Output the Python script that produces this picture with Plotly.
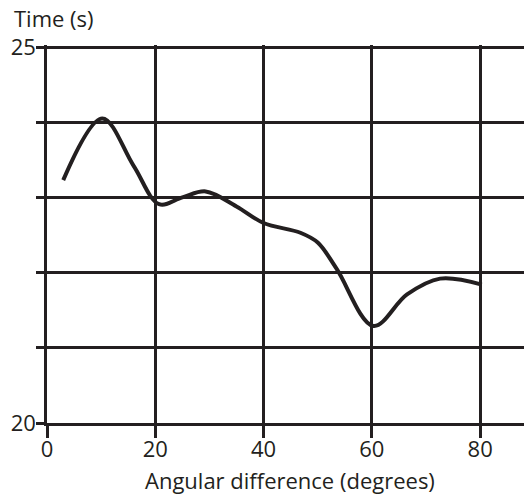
import plotly.graph_objects as go

angle = [3, 10.2, 16, 20.7, 25, 29.3, 35, 40, 46.8, 50, 53.5, 60.3, 66.5, 72.6, 80.3]
time_s = [23.23, 24.05, 23.42, 22.91, 23.0, 23.08, 22.88, 22.66, 22.53, 22.40, 22.05, 21.29, 21.71, 21.92, 21.84]

x_ticks = [0, 20, 40, 60, 80]
y_ticks = [20, 21, 22, 23, 24, 25]
y_ticktext = ["20", "", "", "", "", "25"]

ink = "#231f20"
font_family = "Open Sans, Lato, sans-serif"
fs = 22

fig = go.Figure()
fig.add_trace(go.Scatter(
    x=angle, y=time_s, mode="lines",
    line=dict(color=ink, width=4, shape="spline", smoothing=1.0),
    hoverinfo="skip", showlegend=False,
))

fig.update_layout(
    width=524, height=494,
    margin=dict(l=47, r=0, t=45, b=71, autoexpand=False),
    paper_bgcolor="white", plot_bgcolor="white",
    font=dict(family=font_family, size=fs, color=ink),
    xaxis=dict(
        range=[0, 88.1], tickvals=x_ticks, ticktext=[str(v) for v in x_ticks],
        showgrid=True, gridcolor=ink, gridwidth=2.5,
        showline=True, linecolor=ink, linewidth=2.5,
        ticks="outside", ticklen=12, tickwidth=2.5, tickcolor=ink,
        zeroline=False, automargin=False, ticklabelstandoff=-7,
        tickfont=dict(size=fs),
    ),
    yaxis=dict(
        range=[20, 25.027], tickvals=y_ticks, ticktext=y_ticktext,
        showgrid=True, gridcolor=ink, gridwidth=2.5,
        showline=True, linecolor=ink, linewidth=2.5,
        ticks="outside", ticklen=8, tickwidth=2.5, tickcolor=ink,
        zeroline=False, automargin=False, ticklabelstandoff=-4,
        tickfont=dict(size=fs),
    ),
    annotations=[
        dict(
            text="Time (s)", xref="paper", yref="paper", x=-0.0734, y=1.0,
            xanchor="left", yanchor="middle", yshift=27, showarrow=False,
            font=dict(size=fs, family=font_family, color=ink),
        ),
        dict(
            text="Angular difference (degrees)", xref="paper", yref="paper",
            x=(290 - 47) / 477, y=0.0, xanchor="center", yanchor="middle",
            yshift=-57, showarrow=False,
            font=dict(size=fs, family=font_family, color=ink),
        ),
    ],
)

fig.write_html(
    "out.html",
    config={"displayModeBar": False},
    post_script="document.body.style.margin='0';document.body.style.overflow='hidden';",
)
